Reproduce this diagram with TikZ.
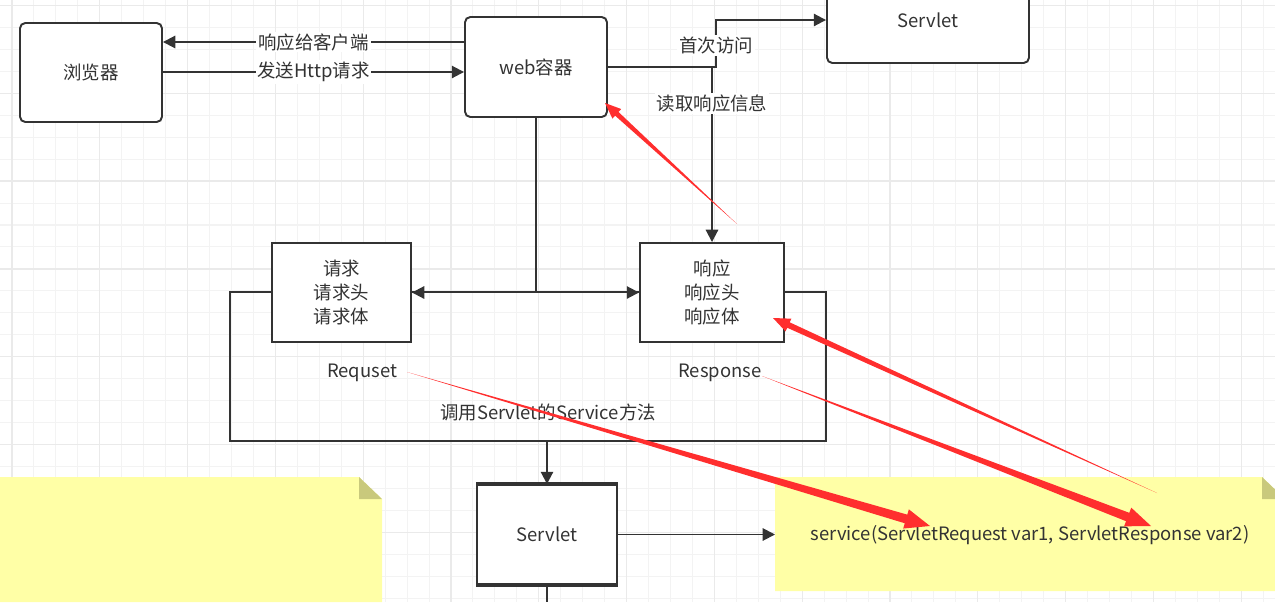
\documentclass[tikz,border=0pt]{standalone}
\usepackage{fontspec}
\setmainfont{Noto Sans CJK SC}
\usetikzlibrary{arrows.meta,calc,positioning}
\definecolor{ink}{HTML}{333333}
\definecolor{gridminor}{HTML}{F3F3F3}
\definecolor{gridmajor}{HTML}{EAEAEA}
\definecolor{notefill}{HTML}{FFFFA6}
\definecolor{notefold}{HTML}{C9C97C}
\definecolor{arrowred}{HTML}{FF2E2E}
% tapered red pointer: tail, head, shaft half-width, head length, head half-width
\newcommand{\redarrow}[5]{%
    \path ($(#2)!#4!(#1)$) coordinate (rb);
    \fill[arrowred] (#1) -- ($(rb)!#3!90:(#2)$) -- ($(rb)!#5!90:(#2)$) -- (#2)
        -- ($(rb)!#5!-90:(#2)$) -- ($(rb)!#3!-90:(#2)$) -- cycle;
}

\begin{document}
\begin{tikzpicture}[x=0.02cm, y=-0.02cm,
        every node/.style={font=\fontsize{10.5}{13.6}\selectfont, text=ink},
        roundbox/.style={draw=ink, line width=1.1pt, fill=white, rounded corners=3pt},
        plainbox/.style={draw=ink, line width=1.1pt, fill=white, align=center},
        conn/.style={draw=ink, line width=1.1pt, -{Triangle[length=7pt,width=7pt]}},
        wire/.style={draw=ink, line width=1.1pt},
        lbl/.style={fill=white, inner sep=1pt}]
    \useasboundingbox (0,0) rectangle (1275,602);
    \clip (0,0) rectangle (1275,602);

    % grid
    \foreach \i in {0,...,58} \draw[gridminor, line width=0.6pt] ({12+\i*21.95},0) -- ({12+\i*21.95},602);
    \foreach \j in {0,...,27} \draw[gridminor, line width=0.6pt] (0,{5.5+\j*21.95}) -- (1275,{5.5+\j*21.95});
    \foreach \i in {0,...,14} \draw[gridmajor, line width=0.7pt] ({12+\i*87.8},0) -- ({12+\i*87.8},602);
    \foreach \j in {0,...,6} \draw[gridmajor, line width=0.7pt] (0,{5.5+\j*87.8}) -- (1275,{5.5+\j*87.8});

    % notes
    \fill[notefill] (0,477) -- (359,477) -- (382,499) -- (382,602) -- (0,602) -- cycle;
    \fill[notefold] (359,477) -- (359,499) -- (382,499) -- cycle;
    \fill[notefill] (775,477) -- (1262,477) -- (1285,499) -- (1285,591) -- (775,591) -- cycle;
    \fill[notefold] (1262,477) -- (1262,499) -- (1285,499) -- cycle;
    \node (method) at (1030,535) {service(ServletRequest var1, ServletResponse var2)};
    \coordinate (notein) at (775,534.5);

    % boxes
    \node[roundbox, minimum width=2.84cm, minimum height=1.98cm] (browser) at (91,72.5) {浏览器};
    \node[roundbox, minimum width=2.84cm, minimum height=2cm] (web) at (536,67) {web容器};
    \node[roundbox, minimum width=4.04cm, minimum height=1.72cm] (servletA) at (928,20) {Servlet};

    \node[wire, minimum width=11.92cm, minimum height=2.98cm] (call) at (528,366.5) {};
    \node (requset) at (362,373) {Requset};
    \node (response) at (720,373) {Response};
    \node at (548,412) {调用Servlet的Service方法};

    \node[plainbox, minimum width=2.78cm, minimum height=1.98cm] (req) at (341.5,292.5) {请求\\请求头\\请求体};
    \node[plainbox, minimum width=2.88cm, minimum height=1.98cm] (resp) at (712,292.5) {响应\\响应头\\响应体};
    \node[plainbox, minimum width=2.8cm, minimum height=1.98cm] (servletB) at (547,534.5) {Servlet};
    \draw[ink, line width=1.8pt] (servletB.north west) -- (servletB.north east);
    \draw[ink, line width=1.8pt] (servletB.south west) -- (servletB.south east);

    % connectors
    \draw[conn] (web.west |- 0,42) -- node[lbl]{响应给客户端} (browser.east |- 0,42);
    \draw[conn] (browser.east |- 0,72) -- node[lbl]{发送Http请求} (web.west |- 0,72);
    \coordinate (turn) at (716,67);
    \draw[conn] (web.east) -- (turn) |- node[lbl, pos=0.23]{首次访问} (servletA.west);
    \draw[conn] (resp.north |- web.east) -- node[lbl, pos=0.21]{读取响应信息} (resp.north);
    \coordinate (split) at (536,292.5);
    \draw[wire] (web.south) -- (split);
    \draw[conn] (split) -- (req.east);
    \draw[conn] (split) -- (resp.west);
    \draw[conn] (servletB.north |- call.south) -- (servletB.north);
    \coordinate (down) at (547,602);
    \draw[wire] (servletB.south) -- (down);
    \draw[conn] (servletB.east) -- (notein);

    % red pointers
    \coordinate (t1) at (737,224);  \coordinate (h1) at (605,103);
    \coordinate (t2) at (407,372);  \coordinate (h2) at (930,526);
    \coordinate (t3) at (762,376);  \coordinate (h3) at (1151,526);
    \coordinate (t4) at (1157,493); \coordinate (h4) at (773,318);
    \redarrow{t1}{h1}{0.05cm}{0.32cm}{0.13cm}
    \redarrow{t2}{h2}{0.09cm}{0.5cm}{0.2cm}
    \redarrow{t3}{h3}{0.09cm}{0.5cm}{0.2cm}
    \redarrow{t4}{h4}{0.06cm}{0.34cm}{0.14cm}
\end{tikzpicture}
\end{document}
